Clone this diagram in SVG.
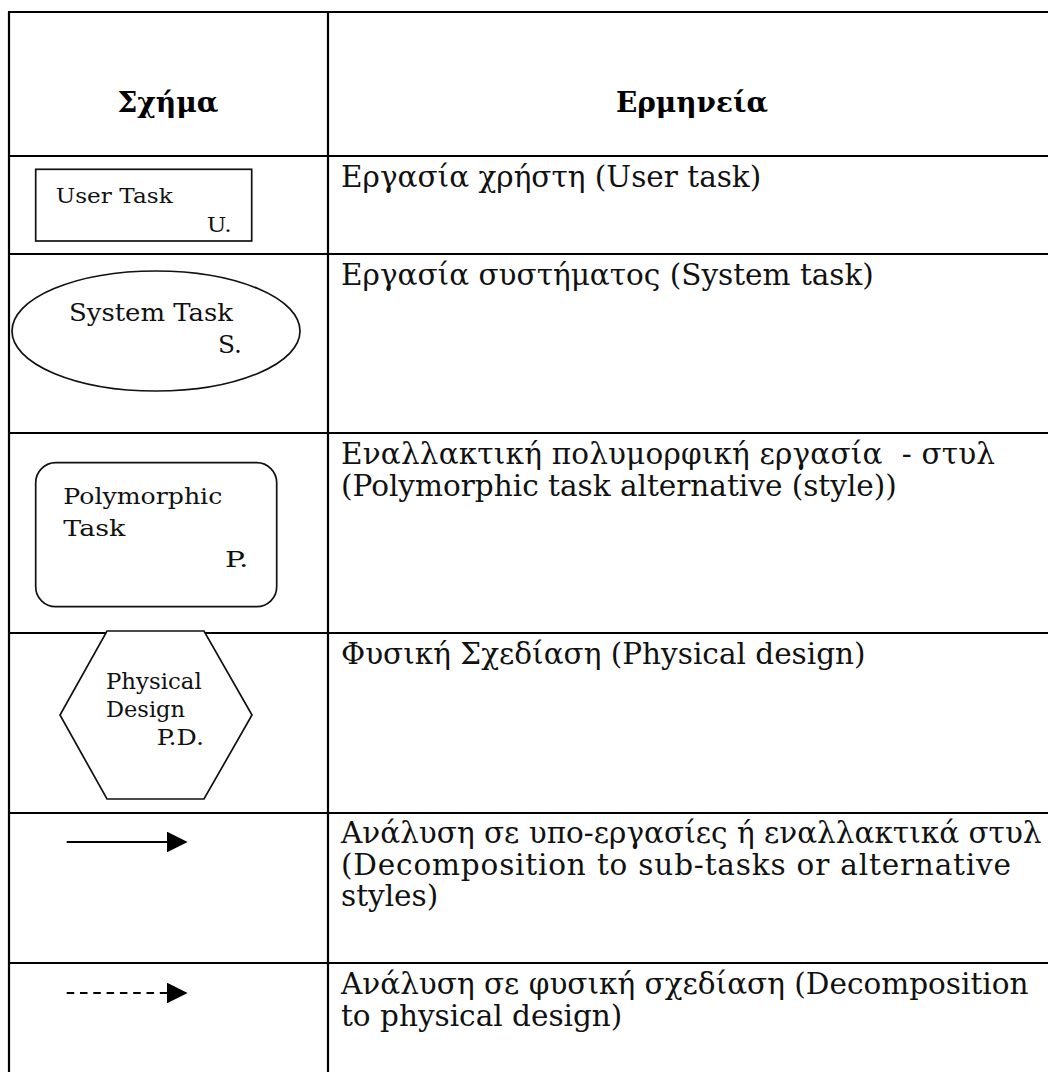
<svg xmlns="http://www.w3.org/2000/svg" width="1048" height="1072" viewBox="0 0 1048 1072">
  <style>
    .grid { stroke: #000; stroke-width: 2.2; fill: none; }
    .shape { fill: #fff; stroke: #111; stroke-width: 1.7; }
    .lbl { font-family: "DejaVu Serif", "Liberation Serif", serif; fill: #111; }
    .head { font-family: "DejaVu Serif", "Liberation Serif", serif; font-weight: bold; font-size: 27px; fill: #000; }
    .desc { font-family: "DejaVu Serif", "Liberation Serif", serif; font-size: 29.5px; fill: #111; white-space: pre; }
    .conn { stroke: #000; stroke-width: 2; fill: none; }
    .dash { stroke-dasharray: 7.5 5.8; }
  </style>
  <defs>
    <marker id="arrow" viewBox="0 0 20 20" markerWidth="20.6" markerHeight="20.6" markerUnits="userSpaceOnUse" refX="0" refY="10" orient="auto">
      <path d="M0,0 L20,10 L0,20 z" fill="#000"/>
    </marker>
  </defs>

  <rect width="1048" height="1072" fill="#fff"/>

  <!-- table rules -->
  <g id="table">
    <line class="grid" x1="9" y1="12" x2="9" y2="1072"/>
    <line class="grid" x1="328" y1="12" x2="328" y2="1072"/>
    <line class="grid" x1="8" y1="12" x2="1048" y2="12"/>
    <line class="grid" x1="8" y1="156" x2="1048" y2="156"/>
    <line class="grid" x1="8" y1="254" x2="1048" y2="254"/>
    <line class="grid" x1="8" y1="433" x2="1048" y2="433"/>
    <line class="grid" x1="8" y1="633" x2="1048" y2="633"/>
    <line class="grid" x1="8" y1="813" x2="1048" y2="813"/>
    <line class="grid" x1="8" y1="963" x2="1048" y2="963"/>
  </g>

  <!-- column headings -->
  <g id="headings">
    <text class="head" x="168" y="112" text-anchor="middle" textLength="101" lengthAdjust="spacingAndGlyphs">Σχήμα</text>
    <text class="head" x="692" y="112" text-anchor="middle" textLength="152" lengthAdjust="spacingAndGlyphs">Ερμηνεία</text>
  </g>

  <!-- legend shapes -->
  <g id="user-task">
    <rect class="shape" x="35.7" y="169.3" width="216" height="71.7" stroke="#333"/>
    <text class="lbl" x="55.7" y="202.7" font-size="21" textLength="117" lengthAdjust="spacingAndGlyphs">User Task</text>
    <text class="lbl" x="206.7" y="231.7" font-size="21" textLength="25" lengthAdjust="spacingAndGlyphs">U.</text>
  </g>

  <g id="system-task">
    <ellipse class="shape" cx="156" cy="331" rx="144" ry="60"/>
    <text class="lbl" x="69" y="321" font-size="24" textLength="164" lengthAdjust="spacingAndGlyphs">System Task</text>
    <text class="lbl" x="218" y="353" font-size="24" textLength="24" lengthAdjust="spacingAndGlyphs">S.</text>
  </g>

  <g id="polymorphic-task">
    <rect class="shape" x="35.7" y="462.7" width="241" height="144" rx="20" ry="20"/>
    <text class="lbl" x="63.3" y="504" font-size="23" textLength="159" lengthAdjust="spacingAndGlyphs">Polymorphic</text>
    <text class="lbl" x="63.3" y="535.7" font-size="23" textLength="62" lengthAdjust="spacingAndGlyphs">Task</text>
    <text class="lbl" x="225" y="566.7" font-size="23" textLength="23.3" lengthAdjust="spacingAndGlyphs">P.</text>
  </g>

  <g id="physical-design">
    <polygon class="shape" points="107,631 204,631 252,715 204,799 107,799 60,715"/>
    <text class="lbl" x="106" y="689" font-size="22" textLength="95.7" lengthAdjust="spacingAndGlyphs">Physical</text>
    <text class="lbl" x="106" y="716.7" font-size="22" textLength="79" lengthAdjust="spacingAndGlyphs">Design</text>
    <text class="lbl" x="156.7" y="745" font-size="22" textLength="47.3" lengthAdjust="spacingAndGlyphs">P.D.</text>
  </g>

  <!-- sample connectors -->
  <g id="connectors">
    <line class="conn" x1="66.7" y1="842" x2="167" y2="842" marker-end="url(#arrow)"/>
    <line class="conn dash" x1="66.7" y1="993" x2="167" y2="993" marker-end="url(#arrow)"/>
  </g>

  <!-- descriptions -->
  <g id="descriptions">
    <text class="desc" x="341" y="187">Εργασία χρήστη (User task)</text>
    <text class="desc" x="341" y="285">Εργασία συστήματος (System task)</text>
    <text class="desc" x="341" y="464" xml:space="preserve" textLength="654">Εναλλακτική πολυμορφική εργασία  - στυλ</text>
    <text class="desc" x="341" y="495.5">(Polymorphic task alternative (style))</text>
    <text class="desc" x="341" y="664">Φυσική Σχεδίαση (Physical design)</text>
    <text class="desc" x="341" y="843">Ανάλυση σε υπο-εργασίες ή εναλλακτικά στυλ</text>
    <text class="desc" x="341" y="874.5" textLength="670">(Decomposition to sub-tasks or alternative</text>
    <text class="desc" x="341" y="906">styles)</text>
    <text class="desc" x="341" y="994">Ανάλυση σε φυσική σχεδίαση (Decomposition</text>
    <text class="desc" x="341" y="1025.5">to physical design)</text>
  </g>
</svg>
